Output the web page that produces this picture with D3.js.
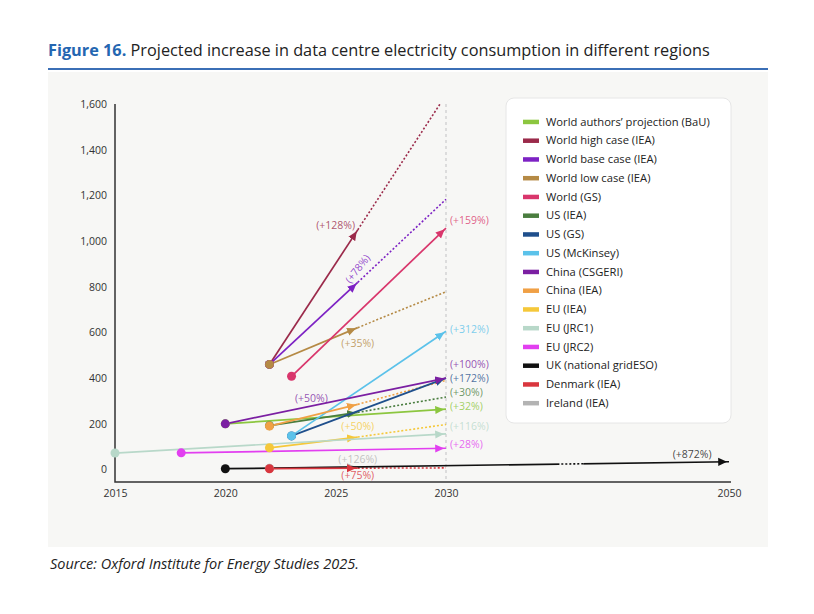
<!DOCTYPE html>
<html lang="en">
<head>
<meta charset="UTF-8">
<title>Figure 16</title>
<script src="https://d3js.org/d3.v7.min.js"></script>
<style>
  body { margin: 0; background: #fff; }
  svg text { font-family: "Open Sans", Lato, sans-serif; }
  .tick text { font-size: 10.5px; fill: #333; }
</style>
</head>
<body>
<svg width="814" height="614"></svg>
<script>
// series, in legend order
var names = ["World authors\u2019 projection (BaU)", "World high case (IEA)", "World base case (IEA)",
  "World low case (IEA)", "World (GS)", "US (IEA)", "US (GS)", "US (McKinsey)", "China (CSGERI)",
  "China (IEA)", "EU (IEA)", "EU (JRC1)", "EU (JRC2)", "UK (national gridESO)", "Denmark (IEA)", "Ireland (IEA)"];
var colors = ["#8cc63f", "#9b2a4a", "#7d22c4", "#b58a45", "#d9366c", "#4a7d3f", "#1f4f8c", "#5bc2ea",
  "#7b1fa2", "#f0a045", "#f5c83a", "#b8d8c9", "#e23ff0", "#111111", "#d9363e", "#b3b3b3"];

var startYears  = [2020, 2022, 2022, 2022, 2023, 2022, 2023, 2023, 2020, 2022, 2022, 2015, 2018, 2020, 2022, 2022];
var startValues = [200, 460, 460, 460, 408, 192, 147, 147, 200, 190, 95, 72, 73, 3.5, 3.5, 5];
var arrowYears  = [2030, 2026, 2026, 2026, 2030, 2026, 2030, 2030, 2030, 2026, 2026, 2030, 2030, 2050, 2026, 2026];
var arrowValues = [264, 1049, 819, 621, 1057, 250, 400, 605, 400, 285, 142, 156, 93, 34, 6, 11];
// dotted continuation to 2030 (null = none)
var dottedValues = [null, 1640, 1183, 778, null, 317, null, null, null, 390, 197, null, null, null, 7, null];
var dottedYear = 2030;
var ukGap = [2038, 2039.7]; // dotted stretch in the UK line

// growth labels: text, series, year, value
var labelText   = ["(+128%)", "(+78%)", "(+159%)", "(+35%)", "(+312%)", "(+100%)", "(+172%)", "(+30%)",
  "(+32%)", "(+116%)", "(+28%)", "(+50%)", "(+50%)", "(+126%)", "(+75%)", "(+872%)"];
var labelSeries = [1, 2, 4, 3, 7, 8, 6, 5, 0, 11, 12, 8, 10, 15, 14, 13];
var labelYears  = [2025, 2026, 2030, 2026, 2030, 2030, 2030, 2030, 2030, 2030, 2030, 2023.9, 2026, 2026, 2026, 2047.4];
var labelValues = [1070, 879, 1092, 554, 615, 462, 400, 338, 275, 187, 112, 312, 187, 46, -27, 68];

var xTicks = [2015, 2020, 2025, 2030, 2050];
var yTicks = [0, 200, 400, 600, 800, 1000, 1200, 1400, 1600];

var svg = d3.select("svg");
var bg = "#f7f7f5";

// title + frame
var title = svg.append("text").attr("x", 48).attr("y", 56).attr("font-size", 16.3).attr("fill", "#222");
title.append("tspan").attr("font-weight", 700).attr("fill", "#2466b1").text("Figure 16.");
title.append("tspan").text(" Projected increase in data centre electricity consumption in different regions");
svg.append("line").attr("x1", 48).attr("x2", 768).attr("y1", 69).attr("y2", 69)
  .attr("stroke", "#3b6fb6").attr("stroke-width", 2);
svg.append("rect").attr("x", 48).attr("y", 72).attr("width", 720).attr("height", 475).attr("fill", bg);
svg.append("text").attr("x", 50).attr("y", 569).attr("font-size", 14.5).attr("font-style", "italic")
  .attr("fill", "#222").text("Source: Oxford Institute for Energy Studies 2025.");

var x = d3.scaleLinear().domain([2015, 2030, 2050]).range([115, 446, 729]);
var y = d3.scaleLinear().domain([0, 1600]).range([469.5, 104]);
var axisY = 482;

var defs = svg.append("defs");
defs.append("clipPath").attr("id", "plot").append("rect")
  .attr("x", 100).attr("y", y(1600)).attr("width", 650).attr("height", 400);
colors.forEach(function(c, i) {
  defs.append("marker").attr("id", "arr" + i)
    .attr("viewBox", "0 -5 10 10").attr("refX", 12).attr("refY", 0)
    .attr("markerWidth", 9).attr("markerHeight", 9).attr("markerUnits", "userSpaceOnUse")
    .attr("orient", "auto")
    .append("path").attr("d", "M0,-4.5L10,0L0,4.5Z").attr("fill", c);
});

// 2030 reference line
svg.append("line").attr("x1", x(2030)).attr("x2", x(2030)).attr("y1", y(1600)).attr("y2", axisY)
  .attr("stroke", "#dcdcdc").attr("stroke-width", 2).attr("stroke-dasharray", "3 3");

// axes
var yAxis = svg.append("g").attr("transform", "translate(115,0)")
  .call(d3.axisLeft(y).tickValues(yTicks).tickSize(0).tickPadding(8).tickFormat(d3.format(",")));
yAxis.select(".domain").remove();
var xAxis = svg.append("g").attr("transform", "translate(0," + axisY + ")")
  .call(d3.axisBottom(x).tickValues(xTicks).tickSize(0).tickPadding(8).tickFormat(d3.format("d")));
xAxis.select(".domain").remove();
svg.append("path").attr("d", "M115," + y(1600) + "V" + axisY + "H731")
  .attr("fill", "none").attr("stroke", "#333").attr("stroke-width", 1.5);

var plot = svg.append("g").attr("clip-path", "url(#plot)");
var order = [15].concat(d3.range(15));

// dotted continuations
order.forEach(function(i) {
  if (dottedValues[i] === null) return;
  plot.append("line")
    .attr("x1", x(arrowYears[i])).attr("y1", y(arrowValues[i]))
    .attr("x2", x(dottedYear)).attr("y2", y(dottedValues[i]))
    .attr("stroke", colors[i]).attr("stroke-width", 1.6).attr("stroke-dasharray", "2 2");
});

// solid arrows
order.forEach(function(i) {
  plot.append("line")
    .attr("x1", x(startYears[i])).attr("y1", y(startValues[i]))
    .attr("x2", x(arrowYears[i])).attr("y2", y(arrowValues[i]))
    .attr("stroke", colors[i]).attr("stroke-width", 1.7)
    .attr("marker-end", "url(#arr" + i + ")");
});

// UK line break
var uk = 13;
defs.append("clipPath").attr("id", "gap").append("rect")
  .attr("x", x(ukGap[0])).attr("y", 0).attr("width", x(ukGap[1]) - x(ukGap[0])).attr("height", 614);
var gapG = svg.append("g").attr("clip-path", "url(#gap)");
[[bg, 4, null], ["#111", 1.6, "2 2"]].forEach(function(s) {
  gapG.append("line")
    .attr("x1", x(startYears[uk])).attr("y1", y(startValues[uk]))
    .attr("x2", x(arrowYears[uk])).attr("y2", y(arrowValues[uk]))
    .attr("stroke", s[0]).attr("stroke-width", s[1]).attr("stroke-dasharray", s[2]);
});

// start dots
order.forEach(function(i) {
  svg.append("circle").attr("cx", x(startYears[i])).attr("cy", y(startValues[i])).attr("r", 4.5)
    .attr("fill", colors[i]);
});

// labels
labelText.forEach(function(t, k) {
  var i = labelSeries[k];
  var atEnd = labelYears[k] === 2030;
  var lx = atEnd ? x(2030) + 4 : x(labelYears[k]);
  var ly = y(labelValues[k]);
  var txt = svg.append("text").attr("x", lx).attr("y", ly).attr("dy", "0.35em")
    .attr("text-anchor", atEnd ? "start" : "middle")
    .attr("font-size", 10.5).attr("fill", colors[i]).attr("fill-opacity", 0.8).text(t);
  if (t === "(+78%)") txt.attr("transform", "rotate(-52," + lx + "," + ly + ")");
});

// legend
svg.append("rect").attr("x", 506).attr("y", 98).attr("width", 225).attr("height", 325).attr("rx", 8)
  .attr("fill", "#fff").attr("stroke", "#e6e6e6");
var leg = svg.append("g").selectAll("g").data(names).join("g")
  .attr("transform", function(d, i) { return "translate(523," + (121.7 + i * 18.75) + ")"; });
leg.append("rect").attr("x", 0).attr("y", -2).attr("width", 16).attr("height", 4.5)
  .attr("fill", function(d, i) { return colors[i]; });
leg.append("text").attr("x", 23).attr("dy", "0.35em").attr("font-size", 11.2).attr("fill", "#222")
  .text(function(d) { return d; });
</script>
</body>
</html>
